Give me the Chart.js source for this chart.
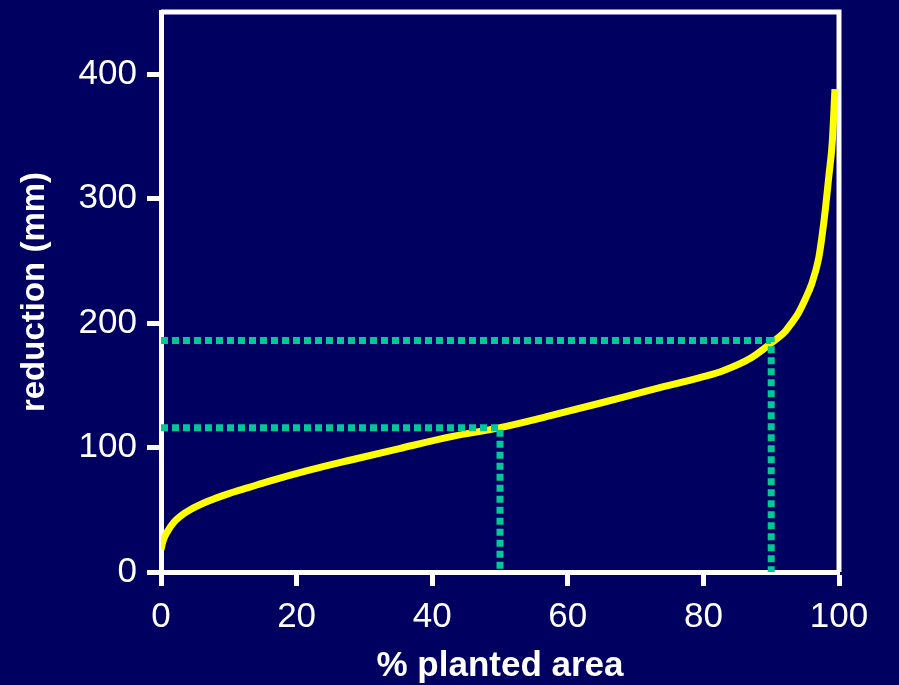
<!DOCTYPE html>
<html>
<head>
<meta charset="utf-8">
<script src="https://cdn.jsdelivr.net/npm/chart.js@4.4.1/dist/chart.umd.min.js"></script>
<style>
  body { margin: 0; background: #000060; }
  canvas { display: block; }
</style>
</head>
<body>
<canvas id="grafico" width="899" height="685"></canvas>
<script>
// curva: % area plantada vs reduccion (mm)
const planted   = [0, 0.3, 1, 1.9, 2.9, 4.3, 7, 10, 13, 16, 22, 28, 35, 43, 50, 57, 65, 72, 80, 83, 87, 90, 92, 93, 94, 95, 96, 97, 97.5, 98, 98.5, 99, 99.4];
const reduction = [18, 25, 33, 40, 45, 50, 57, 63, 68, 73, 82, 90, 99, 109, 116, 125, 136, 146, 157, 162, 172, 184, 193, 200, 208, 219, 232, 252, 270, 292, 318, 345, 388];

// lineas punteadas de referencia
const markX = [50, 90];
const markY = [116, 186];

const xMax = 100, xStep = 20;
const yMax = 450, yStep = 100;

const tickFont = { family: 'Liberation Sans, Arial, sans-serif', size: 35 };
const titleFont = { family: 'Liberation Sans, Arial, sans-serif', size: 35, weight: 'bold', lineHeight: 1.2 };

function markLine(i) {
  return {
    data: [{ x: 0, y: markY[i] }, { x: markX[i], y: markY[i] }, { x: markX[i], y: 0 }],
    borderColor: '#00c896',
    borderWidth: 7,
    borderDash: [7, 4],
    pointRadius: 0,
    tension: 0,
    order: 0
  };
}

// borde de arriba y derecha del area
const frame = {
  id: 'frame',
  beforeDatasetsDraw(chart) {
    const { ctx, chartArea: a } = chart;
    ctx.save();
    ctx.strokeStyle = '#fff';
    ctx.lineWidth = 5;
    ctx.beginPath();
    ctx.moveTo(a.left, a.top);
    ctx.lineTo(a.right, a.top);
    ctx.lineTo(a.right, a.bottom);
    ctx.stroke();
    ctx.restore();
  }
};

new Chart(document.getElementById('grafico').getContext('2d'), {
  type: 'line',
  data: {
    datasets: [
      markLine(0),
      markLine(1),
      {
        data: planted.map((p, i) => ({ x: p, y: reduction[i] })),
        borderColor: '#ffff00',
        borderWidth: 7,
        pointRadius: 0,
        cubicInterpolationMode: 'monotone',
        order: 1
      }
    ]
  },
  options: {
    responsive: false,
    animation: false,
    layout: { padding: { top: 12, right: 60, left: 0, bottom: 0 } },
    plugins: { legend: { display: false }, tooltip: { enabled: false } },
    scales: {
      x: {
        type: 'linear',
        min: 0,
        max: xMax,
        afterFit(axis) { axis.height = 113; },
        border: { color: '#fff', width: 5 },
        grid: { drawOnChartArea: false, tickLength: 14, tickColor: '#fff', tickWidth: 5 },
        ticks: { stepSize: xStep, color: '#fff', font: tickFont, padding: 10, maxRotation: 0 },
        title: { display: true, text: '% planted area', color: '#fff', font: titleFont, padding: { top: 0, bottom: -2 } }
      },
      y: {
        min: 0,
        max: yMax,
        afterFit(axis) { axis.width = 161; axis.paddingTop = 0; axis.paddingBottom = 0; },
        border: { color: '#fff', width: 5 },
        grid: { drawOnChartArea: false, tickLength: 14, tickColor: '#fff', tickWidth: 5 },
        ticks: { stepSize: yStep, includeBounds: false, color: '#fff', font: tickFont, padding: 10 },
        title: { display: true, text: 'reduction (mm)', color: '#fff', font: { ...titleFont, size: 33 }, padding: { top: 15, bottom: 0 } }
      }
    }
  },
  plugins: [frame]
});
</script>
</body>
</html>
